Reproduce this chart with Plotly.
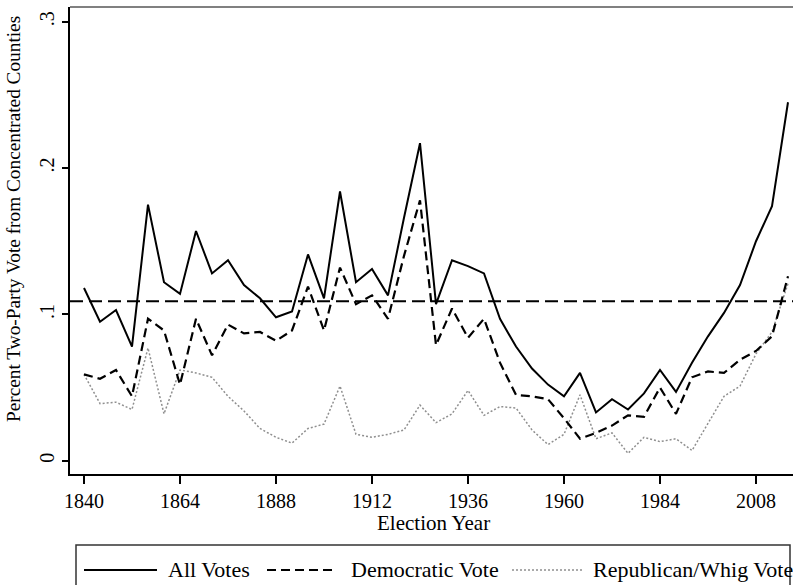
import plotly.graph_objects as go

years = list(range(1840, 2017, 4))
all_votes = [0.118, 0.095, 0.103, 0.078, 0.175, 0.122, 0.114, 0.157, 0.128, 0.137,
             0.120, 0.111, 0.098, 0.102, 0.141, 0.111, 0.184, 0.122, 0.131, 0.113,
             0.166, 0.217, 0.107, 0.137, 0.133, 0.128, 0.097, 0.078, 0.063, 0.052,
             0.044, 0.060, 0.033, 0.042, 0.035, 0.046, 0.062, 0.047, 0.067, 0.085,
             0.101, 0.120, 0.150, 0.174, 0.245]
democratic_vote = [0.059, 0.056, 0.062, 0.044, 0.097, 0.089, 0.052, 0.097, 0.072, 0.093,
                   0.087, 0.088, 0.082, 0.089, 0.119, 0.089, 0.132, 0.107, 0.113, 0.097,
                   0.140, 0.178, 0.079, 0.104, 0.084, 0.097, 0.067, 0.045, 0.044, 0.042,
                   0.029, 0.015, 0.019, 0.024, 0.031, 0.030, 0.050, 0.032, 0.057, 0.061,
                   0.060, 0.069, 0.075, 0.085, 0.126]
republican_whig_vote = [0.059, 0.039, 0.040, 0.035, 0.077, 0.032, 0.062, 0.060, 0.057, 0.044,
                        0.034, 0.022, 0.016, 0.012, 0.022, 0.025, 0.051, 0.018, 0.016, 0.018,
                        0.021, 0.038, 0.026, 0.032, 0.048, 0.031, 0.037, 0.036, 0.021, 0.011,
                        0.018, 0.045, 0.015, 0.019, 0.005, 0.016, 0.013, 0.015, 0.007, 0.026,
                        0.044, 0.051, 0.073, 0.088, 0.121]
reference_level = 0.109
x_tick_vals = [1840, 1864, 1888, 1912, 1936, 1960, 1984, 2008]
y_tick_vals = [0, 0.1, 0.2, 0.3]
y_tick_text = ["0", ".1", ".2", ".3"]
legend_labels = ["All Votes", "Democratic Vote", "Republican/Whig Vote"]
x_title = "Election Year"
y_title = "Percent Two-Party Vote from Concentrated Counties"

W, H = 793, 585
L, T, B, R = 70, 7, 474, 793
FONT = "Liberation Serif, Times New Roman, serif"


def px(x):
    return (x - L) / (R - L)


def py(y):
    return (B - y) / (B - T)


fig = go.Figure()
fig.add_trace(go.Scatter(x=years, y=republican_whig_vote, mode="lines",
                         name=legend_labels[2],
                         line=dict(color="#8f8f8f", width=1.5, dash="2px,2px")))
fig.add_trace(go.Scatter(x=years, y=democratic_vote, mode="lines",
                         name=legend_labels[1],
                         line=dict(color="black", width=2.2, dash="9px,5px")))
fig.add_trace(go.Scatter(x=years, y=all_votes, mode="lines",
                         name=legend_labels[0],
                         line=dict(color="black", width=2)))
fig.add_hline(y=reference_level, line=dict(color="black", width=2, dash="13px,6px"))

shapes = [
    # top frame line
    dict(type="line", xref="paper", yref="paper", x0=0, x1=1, y0=1, y1=1,
         line=dict(color="#808080", width=2)),
    # legend box
    dict(type="rect", xref="paper", yref="paper", x0=px(76), x1=px(790),
         y0=py(545), y1=py(610), line=dict(color="#333333", width=1.5),
         fillcolor="rgba(0,0,0,0)"),
    dict(type="line", xref="paper", yref="paper", x0=px(84), x1=px(157),
         y0=py(570), y1=py(570), line=dict(color="black", width=2)),
    dict(type="line", xref="paper", yref="paper", x0=px(267), x1=px(337),
         y0=py(570), y1=py(570), line=dict(color="black", width=2.2, dash="9px,5px")),
    dict(type="line", xref="paper", yref="paper", x0=px(512), x1=px(582),
         y0=py(570), y1=py(570), line=dict(color="#8f8f8f", width=1.5, dash="2px,2px")),
]
for s in shapes:
    fig.add_shape(**s)

annotations = [
    dict(text=legend_labels[0], x=px(166), y=py(569)),
    dict(text=legend_labels[1], x=px(349), y=py(569)),
    dict(text=legend_labels[2], x=px(591), y=py(569)),
]
for a in annotations:
    fig.add_annotation(xref="paper", yref="paper", xanchor="left", yanchor="middle",
                       showarrow=False, font=dict(family=FONT, size=22, color="black"), **a)

fig.add_annotation(text=x_title, xref="paper", yref="paper", x=px(433), y=py(523),
                   xanchor="center", yanchor="middle", showarrow=False,
                   font=dict(family=FONT, size=21, color="black"))
fig.add_annotation(text=y_title, xref="paper", yref="paper", x=px(13), y=py(219),
                   xanchor="center", yanchor="middle", showarrow=False, textangle=-90,
                   font=dict(family=FONT, size=19.3, color="black"))

fig.update_layout(
    width=W, height=H,
    margin=dict(l=L, r=W - R, t=T, b=H - B, pad=0),
    paper_bgcolor="white", plot_bgcolor="white",
    showlegend=False,
    font=dict(family=FONT, color="black"),
    xaxis=dict(range=[1836.5, 2017.25], tickvals=x_tick_vals, ticks="outside",
               ticklen=8, tickwidth=1.5, tickcolor="black", showline=True,
               linecolor="black", linewidth=2, showgrid=False, zeroline=False,
               tickfont=dict(family=FONT, size=20, color="black")),
    yaxis=dict(range=[-0.0091, 0.3101], tickvals=y_tick_vals, ticktext=y_tick_text,
               tickangle=-90, ticks="outside", ticklen=6, tickwidth=1.5,
               tickcolor="black", showline=True, linecolor="black", linewidth=2,
               showgrid=False, zeroline=False,
               tickfont=dict(family=FONT, size=20, color="black")),
)

fig.write_html("out.html",
               config={"displayModeBar": False},
               post_script="document.body.style.margin='0';document.body.style.overflow='hidden';")
